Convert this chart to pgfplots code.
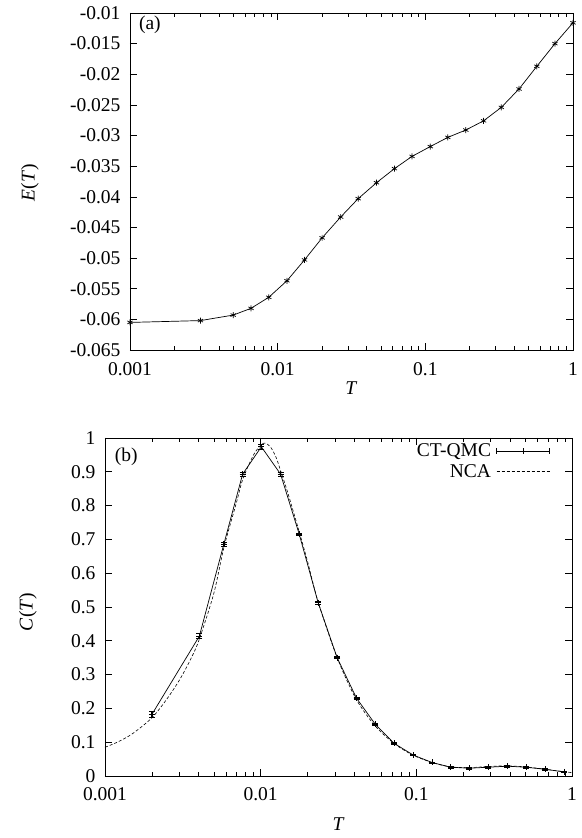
\documentclass[border=0pt]{standalone}
\usepackage{fontspec}
\setmainfont{Liberation Serif}
\usepackage{pgfplots}
\pgfplotsset{compat=1.18}

\newcommand{\fs}{\fontsize{19.5}{22}\selectfont}

\begin{document}
\begin{tikzpicture}
\path[use as bounding box] (0pt,0pt) rectangle (581pt,838pt);

% panel (a)
\begin{axis}[
  scale only axis,
  xmode=log,
  xmin=0.001, xmax=1,
  xtick={0.001,0.01,0.1,1},
  xticklabels={0.001,0.01,0.1,1},
  major tick length=7pt,
  minor tick length=4pt,
  tick align=inside,
  axis line style={line width=0.8pt},
  every tick/.style={black, line width=0.6pt},
  /pgf/number format/assume math mode=true,
  scaled y ticks=false,
  tick label style={font=\fs},
  xticklabel style={yshift=-9pt},
  yticklabel style={xshift=-6pt},
  label style={font=\fs},
  clip=false,
  at={(130pt,488pt)}, anchor=south west,
  width=443pt, height=337pt,
  ymin=-0.065, ymax=-0.01,
  ytick={-0.065,-0.06,-0.055,-0.05,-0.045,-0.04,-0.035,-0.03,-0.025,-0.02,-0.015,-0.01},
  yticklabels={-0.065,-0.06,-0.055,-0.05,-0.045,-0.04,-0.035,-0.03,-0.025,-0.02,-0.015,-0.01},
  xlabel={\textit{T}},
  ylabel={\textit{E}(\textit{T})},
  xlabel style={at={(axis description cs:0.5,-0.113)}, anchor=center},
  ylabel style={at={(axis description cs:-0.226,0.496)}, anchor=center},
]
\addplot[black, line width=0.7pt, mark=asterisk, mark size=3pt] coordinates {
(0.001,-0.0605) (0.003,-0.0602) (0.005,-0.0593) (0.0066,-0.0582) (0.0087,-0.0564)
(0.01156,-0.0537) (0.0152,-0.0503) (0.02,-0.0467) (0.0267,-0.0433) (0.0351,-0.0403)
(0.0467,-0.0377) (0.0618,-0.0354) (0.0813,-0.0334) (0.108,-0.0318) (0.142,-0.0303)
(0.188,-0.0291) (0.248,-0.0276) (0.327,-0.0254) (0.431,-0.0224) (0.569,-0.0187)
(0.755,-0.0150) (1.0,-0.0116)
};
\node[anchor=west, inner sep=0pt, font=\fs] at (rel axis cs:0.02,0.964) {(a)};
\end{axis}

% panel (b)
\begin{axis}[
  scale only axis,
  xmode=log,
  xmin=0.001, xmax=1,
  xtick={0.001,0.01,0.1,1},
  xticklabels={0.001,0.01,0.1,1},
  major tick length=7pt,
  minor tick length=4pt,
  tick align=inside,
  axis line style={line width=0.8pt},
  every tick/.style={black, line width=0.6pt},
  /pgf/number format/assume math mode=true,
  scaled y ticks=false,
  tick label style={font=\fs},
  xticklabel style={yshift=-8pt},
  yticklabel style={xshift=-6pt},
  label style={font=\fs},
  clip=false,
  at={(105pt,62pt)}, anchor=south west,
  width=467pt, height=338pt,
  ymin=0, ymax=1,
  ytick={0,0.1,0.2,0.3,0.4,0.5,0.6,0.7,0.8,0.9,1},
  yticklabels={0,0.1,0.2,0.3,0.4,0.5,0.6,0.7,0.8,0.9,1},
  xlabel={\textit{T}},
  ylabel={\textit{C}(\textit{T})},
  xlabel style={at={(axis description cs:0.5,-0.142)}, anchor=center},
  ylabel style={at={(axis description cs:-0.165,0.485)}, anchor=center},
  legend plot pos=right,
  legend cell align=right,
  legend style={draw=none, fill=none, at={(rel axis cs:0.953,0.988)}, anchor=north east,
    font=\fs, row sep=3pt, inner sep=0pt,
    nodes={inner sep=1.5pt}},
]
\addplot[black, line width=0.7pt, mark=+, mark size=3pt,
  legend image code/.code={
    \path[draw=none, fill=none] (0pt,-3pt) rectangle (57pt,3pt);
    \draw[black, line width=0.7pt] (4pt,0pt) -- (57pt,0pt);
    \draw[black, line width=0.6pt] (4pt,-3pt) -- (4pt,3pt);
    \draw[black, line width=0.6pt] (57pt,-3pt) -- (57pt,3pt);
    \draw[black, line width=0.6pt] (30.5pt,-3pt) -- (30.5pt,3pt);
  },
  error bars/.cd, y dir=both, y explicit,
  error mark options={rotate=90, mark size=3pt, line width=0.6pt},
  error bar style={line width=0.6pt}]
  table[x=T, y=C, y error=dC] {
T C dC
0.002 0.182 0.008
0.00404 0.414 0.007
0.0058 0.686 0.006
0.00766 0.893 0.006
0.0101 0.974 0.006
0.01343 0.893 0.005
0.0177 0.715 0.004
0.0234 0.513 0.004
0.031 0.350 0.003
0.0413 0.230 0.003
0.0545 0.153 0.003
0.0718 0.097 0.002
0.0955 0.062 0.002
0.126 0.040 0.002
0.166 0.026 0.002
0.219 0.023 0.002
0.290 0.026 0.002
0.384 0.029 0.002
0.506 0.026 0.002
0.670 0.020 0.002
0.887 0.012 0.002
};
\addlegendentry{CT-QMC}
\addplot[black, line width=0.6pt, dash pattern=on 3pt off 2pt, smooth,
  legend image code/.code={
    \path[draw=none, fill=none] (0pt,-3pt) rectangle (57pt,3pt);
    \draw[black, line width=0.6pt, dash pattern=on 3pt off 2pt] (4pt,0pt) -- (57pt,0pt);
  }] coordinates {
(0.001,0.085) (0.0012,0.100) (0.0015,0.125) (0.002,0.172) (0.0025,0.228)
(0.003,0.283) (0.0035,0.34) (0.004,0.40) (0.005,0.54) (0.0058,0.675)
(0.007,0.81) (0.0077,0.88) (0.009,0.95) (0.01,0.978) (0.0106,0.985)
(0.0115,0.975) (0.0125,0.945) (0.0134,0.905) (0.015,0.835) (0.0177,0.722)
(0.02,0.635) (0.0234,0.515) (0.031,0.35) (0.041,0.228) (0.054,0.150)
(0.072,0.096) (0.095,0.062) (0.126,0.040) (0.166,0.027) (0.22,0.025)
(0.29,0.028) (0.38,0.030) (0.5,0.027) (0.67,0.020) (0.88,0.013) (1.0,0.010)
};
\addlegendentry{NCA}
\node[anchor=west, inner sep=0pt, font=\fs] at (rel axis cs:0.021,0.945) {(b)};
\end{axis}
\end{tikzpicture}
\end{document}
